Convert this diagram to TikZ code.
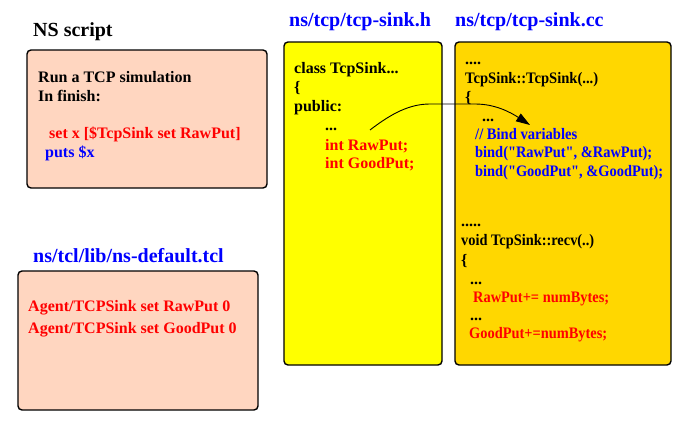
\documentclass[tikz,border=0pt]{standalone}
\usepackage{fontspec}
\usepackage{graphicx}
\setmainfont{Liberation Serif}
\usetikzlibrary{arrows.meta}
\definecolor{peach}{RGB}{255,214,192}
\definecolor{gold}{RGB}{255,215,0}
\definecolor{yel}{RGB}{255,255,0}
\definecolor{tblue}{RGB}{0,0,255}
\definecolor{tred}{RGB}{255,0,0}
\newcommand{\fitw}[2]{\resizebox{#1pt}{\height}{#2}}
\tikzset{
  box/.style={draw=black, line width=1.4pt, rounded corners=4pt},
  txt/.style={anchor=base west, inner sep=0pt, font=\fontsize{16}{19}\selectfont\bfseries},
  ttl/.style={anchor=base west, inner sep=0pt, font=\fontsize{20}{24}\selectfont\bfseries},
}
\begin{document}
\begin{tikzpicture}[x=1pt,y=-1pt]
\useasboundingbox (0,0) rectangle (691,431);
% boxes
\draw[box, fill=peach] (27,50) rectangle (267,188);
\draw[box, fill=peach] (18,271) rectangle (258,410);
\draw[box, fill=yel] (284,42) rectangle (442,365);
\draw[box, fill=gold] (455,42) rectangle (671,365);
% titles
\node[ttl] (t1) at (33,36) {NS script};
\node[ttl, text=tblue] (t2) at (289,27) {ns/tcp/tcp-sink.h};
\node[ttl, text=tblue] (t3) at (455,27) {ns/tcp/tcp-sink.cc};
\node[ttl, text=tblue] (t4) at (33,262) {ns/tcl/lib/ns-default.tcl};
% NS script
\node[txt] (n1) at (38,82) {Run a TCP simulation};
\node[txt] (n2) at (38,101) {In finish:};
\node[txt, text=tred] (n3) at (49,138) {set x [\$TcpSink set RawPut]};
\node[txt, text=tblue] (n4) at (45,157) {puts \$x};
% ns-default
\node[txt, text=tred] (d1) at (28,311) {Agent/TCPSink set RawPut 0};
\node[txt, text=tred] (d2) at (28,333) {Agent/TCPSink set GoodPut 0};
% header
\node[txt] (h1) at (294,73) {class TcpSink...};
\node[txt] (h2) at (294,92) {\{};
\node[txt] (h3) at (294,111) {public:};
\node[txt] (h4) at (325,130) {...};
\node[txt, text=tred] (h5) at (325,150) {int RawPut;};
\node[txt, text=tred] (h6) at (325,168) {int GoodPut;};
% cc
\node[txt] (c1) at (465,64) {....};
\node[txt] (c2) at (465,83) {\fitw{133}{TcpSink::TcpSink(...)}};
\node[txt] (c3) at (465,102) {\{};
\node[txt] (c4) at (482,121) {...};
\node[txt, text=tblue] (c5) at (475,139) {\fitw{102}{// Bind variables}};
\node[txt, text=tblue] (c6) at (475,157) {\fitw{177}{bind(\textquotedbl RawPut\textquotedbl, \&RawPut);}};
\node[txt, text=tblue] (c7) at (475,176) {\fitw{188}{bind(\textquotedbl GoodPut\textquotedbl, \&GoodPut);}};
\node[txt] (c8) at (461,226) {.....};
\node[txt] (c9) at (461,245) {\fitw{133}{void TcpSink::recv(..)}};
\node[txt] (c10) at (461,265) {\{};
\node[txt] (c11) at (470,284) {...};
\node[txt, text=tred] (c12) at (473,302) {\fitw{136}{RawPut+= numBytes;}};
\node[txt] (c13) at (470,320) {...};
\node[txt, text=tred] (c14) at (469,338) {\fitw{138}{GoodPut+=numBytes;}};
% arrow
\coordinate (a1) at (370,130);
\coordinate (a2) at (430,104);
\coordinate (a3) at (475,104);
\coordinate (a4) at (530,125);
\draw[line width=0.9pt, -{Triangle[length=14pt,width=9pt]}]
  (a1) .. controls (392,113) and (410,104) .. (a2) -- (a3)
       .. controls (495,104) and (510,112) .. (a4);
\end{tikzpicture}
\end{document}
